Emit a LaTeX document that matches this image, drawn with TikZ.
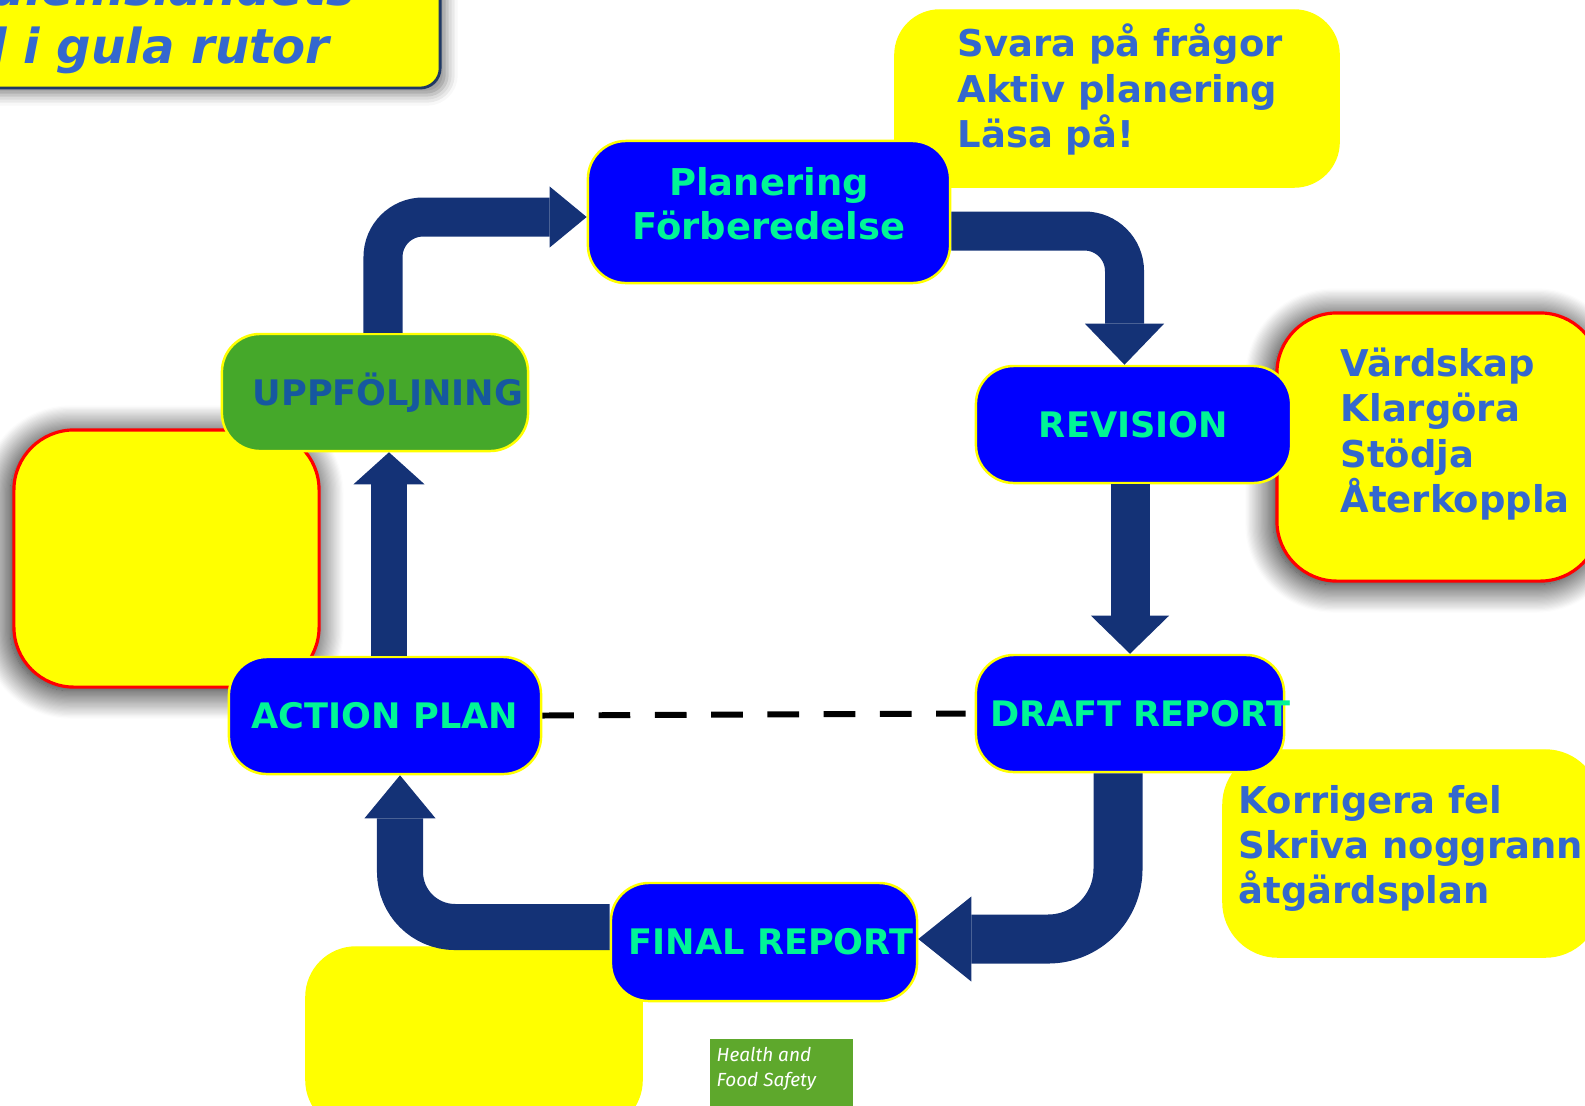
\documentclass[tikz,border=0pt]{standalone}
\usepackage{fontspec}
\setmainfont{DejaVu Sans}
\newfontfamily\logofont{Fira Sans}
\usepackage{tikz}
\usetikzlibrary{
    arrows.meta,
    positioning,
    calc,
    shadows.blur
}
\definecolor{boxblue}{RGB}{0,0,255}
\definecolor{noteyellow}{RGB}{255,255,0}
\definecolor{flowgreen}{RGB}{0,245,150}
\definecolor{navy}{RGB}{20,50,118}
\definecolor{notetext}{RGB}{52,104,206}
\definecolor{followgreen}{RGB}{69,168,42}
\definecolor{followtext}{RGB}{22,88,160}
\definecolor{eugreen}{RGB}{94,168,44}
\definecolor{frameblue}{RGB}{31,56,100}
\tikzstyle{phase} = [
    rectangle,
    rounded corners=0.38cm,
    draw=noteyellow,
    line width=0.7pt,
    fill=boxblue,
    text=flowgreen,
    inner sep=0pt,
    align=center,
    font=\fontsize{10}{12.5}\selectfont\bfseries
]
\tikzstyle{note} = [
    rectangle,
    rounded corners=0.5cm,
    fill=noteyellow,
    draw=noteyellow,
    inner sep=0pt
]
\tikzstyle{remark} = [
    note,
    draw=red,
    line width=0.9pt,
    rounded corners=0.6cm,
    blur shadow={shadow xshift=-1pt, shadow yshift=-1pt, shadow blur radius=8pt, shadow blur steps=24, shadow opacity=100}
]
\tikzstyle{notetxt} = [
    text=notetext,
    align=left,
    inner sep=0pt,
    anchor=base west,
    font=\fontsize{10.5}{12.8}\selectfont\bfseries
]
\tikzstyle{bigarrow} = [
    draw=navy,
    line width=0.39cm,
    rounded corners=0.4cm
]
\tikzstyle{dashlink} = [
    draw=black,
    line width=1.7pt,
    dash pattern=on 9pt off 7pt
]

\begin{document}
\begin{tikzpicture}[x=0.01cm, y=-0.01cm]
    \useasboundingbox (0,0) rectangle (1585,1105);
    \clip (0,0) rectangle (1585,1105);

    % Title box, top left
    \node[note, draw=frameblue, line width=0.8pt, rounded corners=0.2cm,
          minimum width=5cm, minimum height=1.48cm,
          blur shadow={shadow xshift=2pt, shadow yshift=-2pt, shadow blur radius=3pt, shadow opacity=45}] (title) at (190,14) {};
    \node[text=notetext, inner sep=0pt, anchor=base east,
          font=\fontsize{13.7}{16.5}\selectfont\bfseries\itshape] (title1) at (356,5) {Medlemslandets};
    \node[text=notetext, inner sep=0pt, anchor=base east,
          font=\fontsize{13.7}{16.5}\selectfont\bfseries\itshape] (title2) at (330,63) {roll i gula rutor};

    % Yellow notes
    \node[note, rounded corners=0.45cm, minimum width=4.44cm, minimum height=1.77cm] (prep) at (1117,98.5) {};
    \node[notetxt] (preptxt) at (957,147) {Svara på frågor\\Aktiv planering\\Läsa på!};

    \node[remark, minimum width=3.23cm, minimum height=2.68cm] (host) at (1438.5,447) {};
    \node[notetxt] (hosttxt) at (1340,512) {Värdskap\\Klargöra\\Stödja\\Återkoppla};

    \node[note, rounded corners=0.55cm, minimum width=3.77cm, minimum height=2.07cm] (fix) at (1411.5,853.5) {};
    \node[notetxt] (fixtxt) at (1238,903) {Korrigera fel\\Skriva noggrann\\åtgärdsplan};

    \node[note, minimum width=3.36cm, minimum height=1.83cm] (empty1) at (474,1038.5) {};
    \node[remark, minimum width=3.05cm, minimum height=2.57cm] (empty2) at (166.5,558.5) {};

    % Phases
    \node[phase, minimum width=3.62cm, minimum height=1.42cm, text depth=0.18cm,
          font=\fontsize{10.5}{12.5}\selectfont\bfseries] (plan) at (769,212) {Planering\\Förberedelse};
    \node[phase, minimum width=3.15cm, minimum height=1.17cm] (rev) at (1133.5,424.5) {REVISION};
    \node[phase, minimum width=3.08cm, minimum height=1.17cm] (draft) at (1130,713.5) {\makebox[0pt]{\hspace*{0.2cm}DRAFT REPORT}};
    \node[phase, minimum width=3.06cm, minimum height=1.18cm] (final) at (764,942) {\makebox[0pt]{\hspace*{0.14cm}FINAL REPORT}};
    \node[phase, minimum width=3.12cm, minimum height=1.17cm] (act) at (385,715.5) {ACTION PLAN};
    \node[phase, fill=followgreen, text=followtext, minimum width=3.06cm, minimum height=1.17cm] (upp) at (375,392.5) {\makebox[0pt]{\hspace*{0.26cm}UPPFÖLJNING}};

    % Cycle arrows
    \draw[bigarrow, -{Triangle[width=0.61cm, length=0.37cm, line width=0pt]}]
        ($(upp.north)+(8,0)$) |- ($(plan.west)+(0,5)$);
    \draw[bigarrow, -{Triangle[width=0.79cm, length=0.41cm, line width=0pt]}]
        ($(plan.east)+(0,19)$) -| ($(rev.north)+(-9,0)$);
    \draw[bigarrow, -{Triangle[width=0.78cm, length=0.38cm, line width=0pt]}]
        (draft.north |- rev.south) -- (draft.north);
    \draw[bigarrow, line width=0.49cm, rounded corners=0.7cm, -{Triangle[width=0.85cm, length=0.53cm, line width=0pt]}]
        ($(draft.south)+(-12,0)$) |- ($(final.east)+(0,-3)$);
    \draw[bigarrow, line width=0.46cm, rounded corners=0.55cm, -{Triangle[width=0.71cm, length=0.43cm, line width=0pt]}]
        ($(final.west)+(0,-15)$) -| ($(act.south)+(15,0)$);
    \draw[bigarrow, line width=0.35cm, -{Triangle[width=0.71cm, length=0.32cm, line width=0pt]}]
        ($(act.north)+(4,0)$) -- ($(act.north |- upp.south)+(4,0)$);

    % Draft report back to action plan
    \draw[dashlink] (act.east) -- ($(draft.west)+(-9,0)$);

    % Logo
    \node[fill=eugreen, inner sep=0pt, minimum width=1.43cm, minimum height=0.8cm, anchor=north west] (logo) at (709,1038) {};
    \node[text=white, align=left, inner sep=0pt, anchor=base west,
          font=\logofont\itshape\fontsize{5.4}{7.1}\selectfont] (logotxt) at (716,1086) {Health and\\Food Safety};
\end{tikzpicture}
\end{document}
